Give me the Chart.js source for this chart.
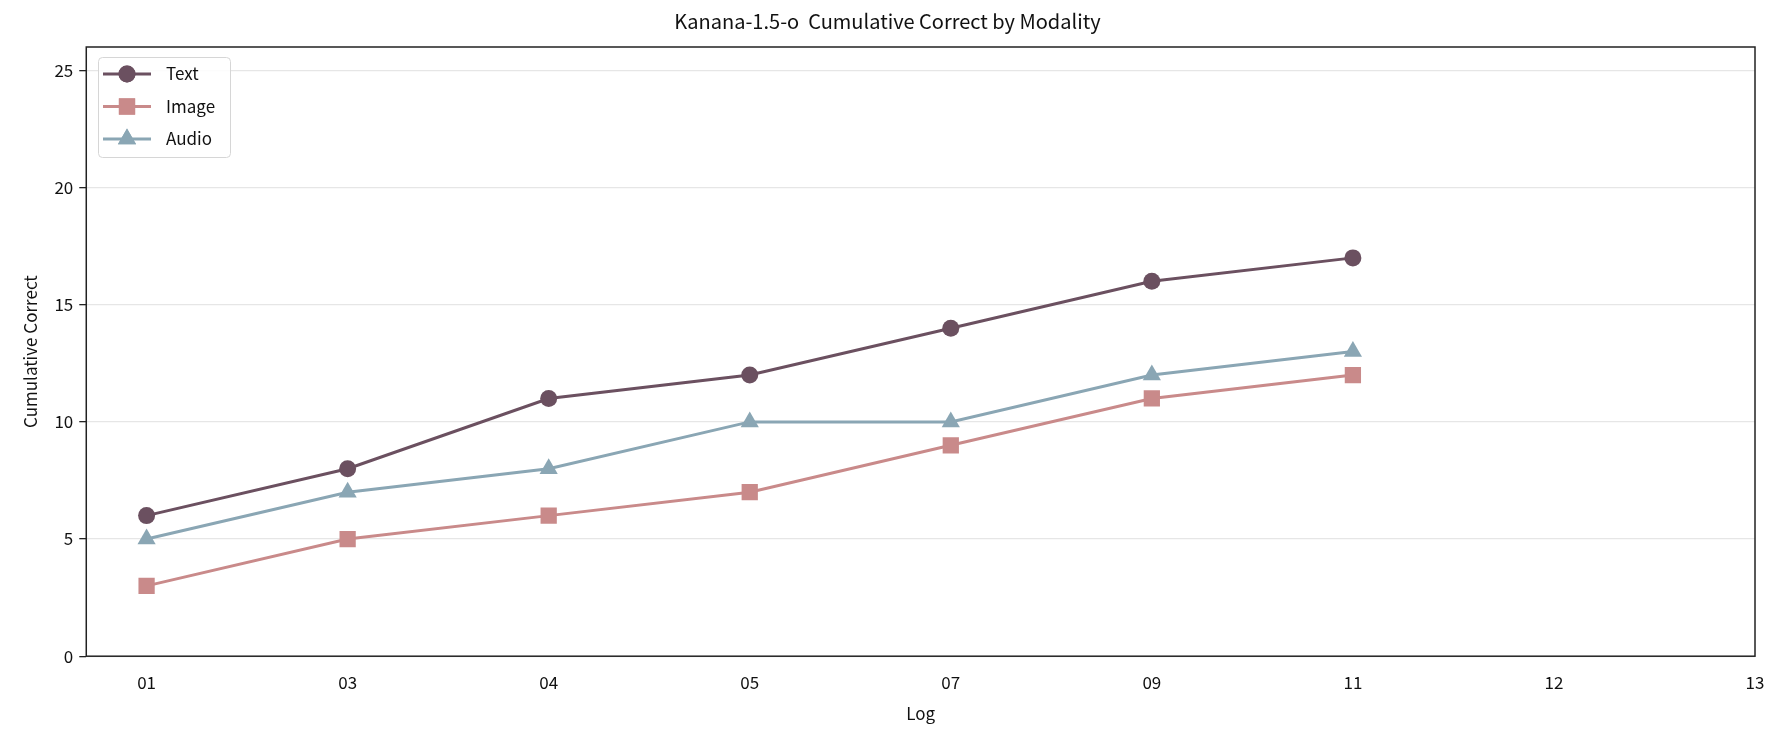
<!DOCTYPE html>
<html>
<head>
<meta charset="utf-8">
<script src="https://cdn.jsdelivr.net/npm/chart.js@4"></script>
<style>
  html, body { margin: 0; padding: 0; background: #fff; }
  #wrap { width: 1786px; height: 737px; position: relative; }
</style>
</head>
<body>
<div id="wrap"><canvas id="chart"></canvas></div>
<script>
    "use strict";

    var logs = ['01', '03', '04', '05', '07', '09', '11', '12', '13'];
    var textCorrect = [6, 8, 11, 12, 14, 16, 17, null, null];
    var imageCorrect = [3, 5, 6, 7, 9, 11, 12, null, null];
    var audioCorrect = [5, 7, 8, 10, 10, 12, 13, null, null];
    var yTicks = [0, 5, 10, 15, 20, 25];

    var FONT = "'Noto Sans CJK KR', 'DejaVu Sans', sans-serif";

    function toPoints(values) {
        return values.map(function (v, i) { return { x: i, y: v }; });
    }

    /** Frame around the plot area */
    var framePlugin = {
        id: 'frame',
        afterDraw: function (chart) {
            var a = chart.chartArea, ctx = chart.ctx;
            ctx.save();
            ctx.strokeStyle = '#222';
            ctx.lineWidth = 1.5;
            ctx.strokeRect(a.left, a.top, a.right - a.left, a.bottom - a.top);
            ctx.restore();
        }
    };

    /** Legend box with line + marker like matplotlib */
    var legendPlugin = {
        id: 'boxLegend',
        afterDraw: function (chart) {
            var ctx = chart.ctx;
            var x0 = 98, y0 = 57, w = 132, h = 100;
            ctx.save();
            ctx.fillStyle = 'rgba(255,255,255,0.85)';
            ctx.strokeStyle = '#d6d6d6';
            ctx.lineWidth = 1;
            ctx.beginPath();
            ctx.roundRect(x0 + 0.5, y0 + 0.5, w, h, 4);
            ctx.fill();
            ctx.stroke();
            chart.data.datasets.forEach(function (ds, i) {
                var y = 74 + i * 32.5;
                ctx.strokeStyle = ds.borderColor;
                ctx.lineWidth = 3;
                ctx.beginPath();
                ctx.moveTo(103, y);
                ctx.lineTo(151, y);
                ctx.stroke();
                ctx.fillStyle = ds.borderColor;
                Chart.helpers.drawPoint(ctx, {
                    pointStyle: ds.pointStyle,
                    radius: ds.pointRadius,
                    borderWidth: 0
                }, 127, y);
                ctx.fill();
                ctx.fillStyle = '#111';
                ctx.font = '17px ' + FONT;
                ctx.textBaseline = 'middle';
                ctx.fillText(ds.label, 166, y);
            });
            ctx.restore();
        }
    };

    function series(label, values, color, style, radius) {
        return {
            label: label,
            data: toPoints(values),
            borderColor: color,
            backgroundColor: color,
            borderWidth: 3,
            pointStyle: style,
            pointRadius: radius,
            pointHoverRadius: radius,
            pointBorderWidth: 0,
            spanGaps: false
        };
    }

    var ctx = document.getElementById('chart').getContext('2d');
    new Chart(ctx, {
        type: 'line',
        data: {
            datasets: [
                series('Text', textCorrect, '#6b5060', 'circle', 8.5),
                series('Image', imageCorrect, '#c98a8a', 'rect', 11.5),
                series('Audio', audioCorrect, '#8aa6b4', 'triangle', 10.5)
            ]
        },
        options: {
            responsive: true,
            maintainAspectRatio: false,
            animation: false,
            layout: { padding: { left: 20, right: 31, top: 0, bottom: 13 } },
            plugins: {
                legend: { display: false },
                tooltip: { enabled: false },
                title: {
                    display: true,
                    text: 'Kanana-1.5-o  Cumulative Correct by Modality',
                    color: '#111',
                    font: { family: FONT, size: 20, weight: 'normal' },
                    padding: { top: 9, bottom: 14 }
                }
            },
            scales: {
                x: {
                    type: 'linear',
                    min: -0.3,
                    max: 8,
                    afterBuildTicks: function (axis) {
                        axis.ticks = logs.map(function (l, i) { return { value: i }; });
                    },
                    ticks: {
                        color: '#111',
                        font: { family: FONT, size: 17 },
                        padding: 9,
                        maxRotation: 0,
                        callback: function (v) { return logs[v]; }
                    },
                    grid: { display: false, drawTicks: true, tickLength: 7, tickColor: '#222', tickWidth: 1.3 },
                    border: { display: false },
                    title: {
                        display: true,
                        text: 'Log',
                        color: '#111',
                        font: { family: FONT, size: 17 },
                        padding: { top: 2, bottom: 0 }
                    }
                },
                y: {
                    min: 0,
                    max: 26,
                    afterBuildTicks: function (axis) {
                        axis.ticks = yTicks.map(function (v) { return { value: v }; });
                    },
                    ticks: {
                        color: '#111',
                        font: { family: FONT, size: 17 },
                        padding: 6
                    },
                    grid: { color: '#e6e6e6', lineWidth: 1.3, drawTicks: true, tickLength: 7, tickColor: '#222' },
                    border: { display: false },
                    title: {
                        display: true,
                        text: 'Cumulative Correct',
                        color: '#111',
                        font: { family: FONT, size: 17 },
                        padding: { top: 0, bottom: 8 }
                    }
                }
            }
        },
        plugins: [framePlugin, legendPlugin]
    });
</script>
</body>
</html>
